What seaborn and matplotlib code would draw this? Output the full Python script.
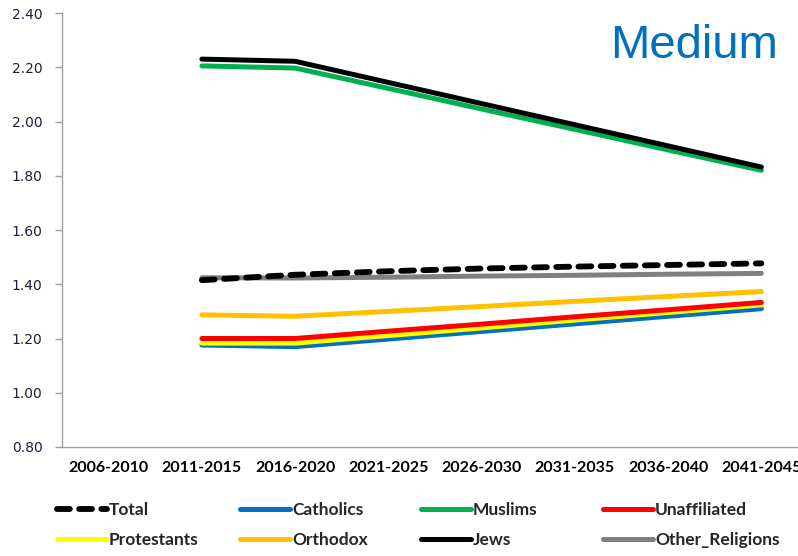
import pandas as pd
import numpy as np
import matplotlib.pyplot as plt
import seaborn as sns

periods = ['2006-2010', '2011-2015', '2016-2020', '2021-2025',
           '2026-2030', '2031-2035', '2036-2040', '2041-2045']

# 2006-2010 has no values
total = [np.nan, 1.415, 1.435, 1.448, 1.458, 1.465, 1.471, 1.477]
catholics = [np.nan, 1.176, 1.170, 1.198, 1.226, 1.254, 1.282, 1.310]
muslims = [np.nan, 2.205, 2.197, 2.122, 2.046, 1.971, 1.895, 1.820]
unaffiliated = [np.nan, 1.200, 1.200, 1.227, 1.253, 1.280, 1.306, 1.333]
protestants = [np.nan, 1.183, 1.183, 1.211, 1.239, 1.268, 1.296, 1.324]
orthodox = [np.nan, 1.287, 1.282, 1.300, 1.318, 1.337, 1.355, 1.373]
jews = [np.nan, 2.230, 2.222, 2.144, 2.066, 1.988, 1.910, 1.832]
other = [np.nan, 1.424, 1.423, 1.426, 1.430, 1.433, 1.437, 1.440]

series = {
    'Total': total, 'Catholics': catholics, 'Muslims': muslims,
    'Unaffiliated': unaffiliated, 'Protestants': protestants,
    'Orthodox': orthodox, 'Jews': jews, 'Other_Religions': other,
}
colors = {
    'Total': 'black', 'Catholics': '#0070C0', 'Muslims': '#00B050',
    'Unaffiliated': '#FF0000', 'Protestants': '#FFFF00',
    'Orthodox': '#FFC000', 'Jews': 'black', 'Other_Religions': '#808080',
}
# drawing order (bottom to top) as in the original
draw_order = ['Catholics', 'Protestants', 'Unaffiliated', 'Orthodox',
              'Other_Religions', 'Total', 'Muslims', 'Jews']

sns.set_style('white')
plt.rcParams['font.family'] = ['Lato', 'DejaVu Sans']

fig = plt.figure(figsize=(7.98, 5.56), dpi=100)
ax = fig.add_axes([62 / 798, 1 - 447 / 556, 746 / 798, 434 / 556])

x = np.arange(len(periods))
handles = {}
for name in draw_order:
    df = pd.DataFrame({'x': x, 'y': series[name]}).dropna()
    if name == 'Total':
        sns.lineplot(data=df, x='x', y='y', ax=ax, color=colors[name], lw=4.2,
                     linestyle=(0, (2.2, 1.6)), dash_capstyle='round')
    else:
        sns.lineplot(data=df, x='x', y='y', ax=ax, color=colors[name], lw=3.6,
                     solid_capstyle='round')
    handles[name] = ax.lines[-1]

ax.set_xlim(-0.5, 7.5)
ax.set_ylim(0.8, 2.4)
ax.set_yticks(np.arange(0.8, 2.41, 0.2))
ax.set_yticklabels([f'{v:.2f}' for v in np.arange(0.8, 2.41, 0.2)],
                   fontsize=10, color='#1F1F3A', family='DejaVu Sans')
ax.set_xticks(x)
ax.set_xticklabels(periods, fontsize=11.5, fontweight='bold', color='black')
ax.set_xticks(np.arange(-0.5, 8, 1), minor=True)
ax.tick_params(axis='x', which='major', length=0, pad=10)
ax.tick_params(axis='x', which='minor', length=5, color='#A0A0A0', width=1,
               direction='out')
ax.tick_params(axis='y', length=5, color='#A0A0A0', width=1, direction='out',
               left=True, pad=9)
ax.set_xlabel('')
ax.set_ylabel('')
for s in ['top', 'right']:
    ax.spines[s].set_visible(False)
for s in ['left', 'bottom']:
    ax.spines[s].set_color('#A0A0A0')
    ax.spines[s].set_linewidth(1)

fig.text(778 / 798, 1 - 24 / 556, 'Medium', ha='right', va='top',
         fontsize=34, color='#0070C0', family='Liberation Sans')

# legend: 4 evenly spaced columns of two entries each
leg_cols = [['Total', 'Protestants'], ['Catholics', 'Orthodox'],
            ['Muslims', 'Jews'], ['Unaffiliated', 'Other_Religions']]
col_x = [57, 240, 421, 603]
for names, cx in zip(leg_cols, col_x):
    fig.legend([handles[n] for n in names], names, loc='center left',
               bbox_to_anchor=(cx / 798, 1 - 525 / 556), frameon=False,
               borderpad=0, borderaxespad=0, handlelength=2.9,
               handletextpad=0.1, labelspacing=0.85,
               prop={'weight': 'bold', 'size': 12.5})

fig.savefig('out.png', dpi=100)
